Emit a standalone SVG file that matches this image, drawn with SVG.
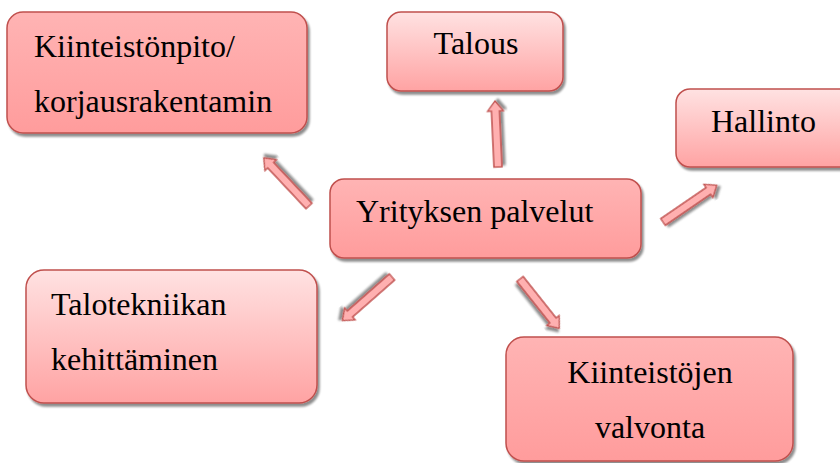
<svg xmlns="http://www.w3.org/2000/svg" width="840" height="463" viewBox="0 0 840 463">
<defs>
<linearGradient id="gLight" x1="0" y1="0" x2="0" y2="1">
<stop offset="0" stop-color="#ffe2e2"/><stop offset="1" stop-color="#ffa3a3"/>
</linearGradient>
<linearGradient id="gDark" x1="0" y1="0" x2="0" y2="1">
<stop offset="0" stop-color="#ffb4b4"/><stop offset="1" stop-color="#ff9c9c"/>
</linearGradient>
<filter id="sh" x="-10%" y="-10%" width="125%" height="130%">
<feGaussianBlur in="SourceAlpha" stdDeviation="1.2"/>
<feOffset dx="1.5" dy="3" result="b"/>
<feComponentTransfer><feFuncA type="linear" slope="0.45"/></feComponentTransfer>
<feMerge><feMergeNode/><feMergeNode in="SourceGraphic"/></feMerge>
</filter>
</defs>
<style>
.box{stroke:#c0504d;stroke-width:1.5;filter:url(#sh)}
.light{fill:url(#gLight)}
.dark{fill:url(#gDark)}
.arr{fill:#ffb0b0;stroke:#c0504d;stroke-width:1.3;stroke-linejoin:miter;filter:url(#sh)}
</style>
<rect width="840" height="463" fill="#fff"/>
<g id="connectors">
<polygon class="arr" points="0,-4 56,-4 56,-8 66,0 56,8 56,4 0,4" transform="translate(498,167) rotate(-92.6)"/>
<polygon class="arr" points="0,-4 56,-4 56,-8 66,0 56,8 56,4 0,4" transform="translate(309,206) rotate(-133.2)"/>
<polygon class="arr" points="0,-4 55,-4 55,-8 65,0 55,8 55,4 0,4" transform="translate(663,222) rotate(-34.4)"/>
<polygon class="arr" points="0,-4 56,-4 56,-8 66,0 56,8 56,4 0,4" transform="translate(392,277) rotate(138.7)"/>
<polygon class="arr" points="0,-4 53,-4 53,-8 63,0 53,8 53,4 0,4" transform="translate(520,279) rotate(51.5)"/>
</g>
<g font-family="Liberation Serif, Tinos, Times New Roman, DejaVu Serif, serif" font-size="32" fill="#000">
<g id="n-kiinteistonpito">
<rect class="box dark" x="7" y="12" width="300" height="121" rx="16"/>
<text x="34" y="57">Kiinteistönpito/</text>
<text x="34" y="112">korjausrakentamin</text>
</g>
<g id="n-talous">
<rect class="box light" x="387" y="12" width="176" height="79" rx="14"/>
<text x="476" y="54" text-anchor="middle">Talous</text>
</g>
<g id="n-hallinto">
<rect class="box light" x="676" y="89" width="180" height="78" rx="14"/>
<text x="711" y="132">Hallinto</text>
</g>
<g id="n-yritys">
<rect class="box dark" x="330" y="179" width="311" height="79" rx="14"/>
<text x="356" y="222">Yrityksen palvelut</text>
</g>
<g id="n-talotekniikka">
<rect class="box light" x="26" y="270" width="291" height="133" rx="18"/>
<text x="51" y="315">Talotekniikan</text>
<text x="51" y="370">kehittäminen</text>
</g>
<g id="n-valvonta">
<rect class="box dark" x="506" y="337" width="287" height="124" rx="18"/>
<text x="650" y="383" text-anchor="middle">Kiinteistöjen</text>
<text x="650" y="438" text-anchor="middle">valvonta</text>
</g>
</g>
</svg>
